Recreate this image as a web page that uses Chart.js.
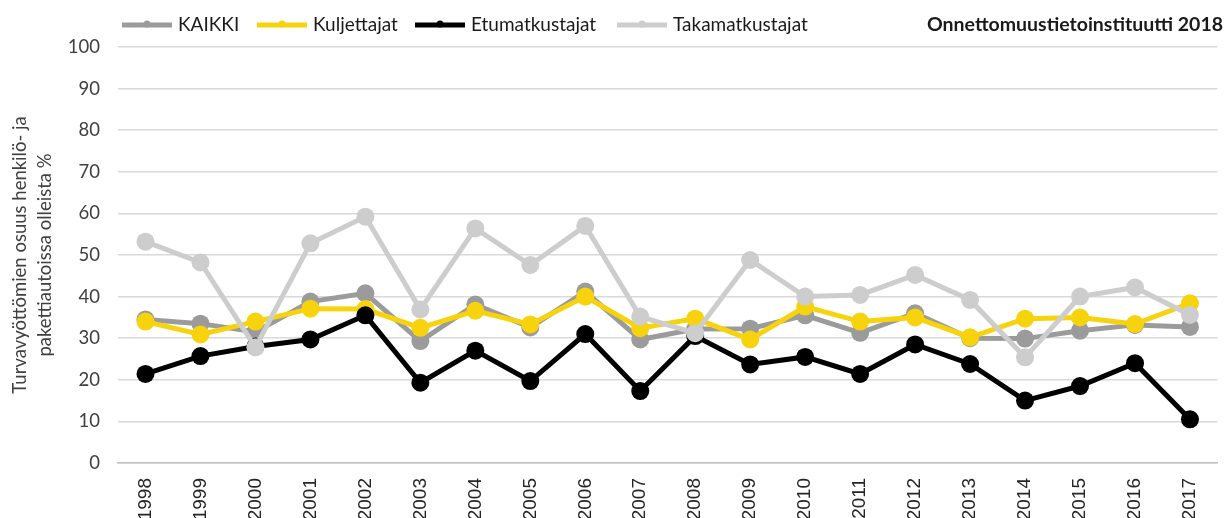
<!DOCTYPE html>
<html>
<head>
<meta charset="utf-8">
<script src="https://cdn.jsdelivr.net/npm/chart.js@4"></script>
<style>
  body { margin: 0; background: #fff; }
</style>
</head>
<body>
<canvas id="myChart" width="1228" height="518"></canvas>
<script>
// years on the x axis
const years = ['1998', '1999', '2000', '2001', '2002', '2003', '2004', '2005', '2006', '2007',
               '2008', '2009', '2010', '2011', '2012', '2013', '2014', '2015', '2016', '2017'];

// share of unbelted occupants, %
const kaikki = [34.5, 33.5, 31.5, 38.8, 40.8, 29.3, 38.1, 32.6, 41.2, 29.7,
                32.2, 32.3, 35.5, 31.3, 36.0, 30.0, 29.9, 31.8, 33.2, 32.7];
const kuljettajat = [34.0, 30.9, 34.0, 37.1, 37.0, 32.5, 36.6, 33.3, 40.0, 32.4,
                     34.7, 29.7, 37.6, 34.0, 35.0, 30.2, 34.7, 35.0, 33.4, 38.4];
const etumatkustajat = [21.4, 25.7, 28.0, 29.7, 35.5, 19.3, 27.0, 19.7, 31.0, 17.3,
                        30.5, 23.7, 25.5, 21.4, 28.5, 23.8, 15.0, 18.5, 24.0, 10.5];
const takamatkustajat = [53.2, 48.2, 27.8, 52.8, 59.2, 36.9, 56.4, 47.6, 57.0, 35.2,
                         31.2, 48.8, 40.0, 40.4, 45.2, 39.2, 25.4, 40.0, 42.2, 35.6];

const seriesNames = ['KAIKKI', 'Kuljettajat', 'Etumatkustajat', 'Takamatkustajat'];
const yTicks = { min: 0, max: 100, step: 10 };
const sourceText = 'Onnettomuustietoinstituutti 2018';

Chart.defaults.font.family = 'Lato, "Open Sans", sans-serif';
Chart.defaults.color = '#404040';

function lineSet(label, data, color, order) {
  return {
    label: label,
    data: data,
    borderColor: color,
    backgroundColor: color,
    borderWidth: 5,
    pointRadius: 9,
    pointHoverRadius: 9,
    pointBorderWidth: 0,
    pointBackgroundColor: color,
    fill: false,
    tension: 0,
    order: order
  };
}

// legend row + source text drawn on top, left aligned like the original
const legendX = [122, 257, 415, 617]; // where each legend sample starts
const topLegend = {
  id: 'topLegend',
  afterDraw(chart) {
    const ctx = chart.ctx;
    const y = 25;
    ctx.save();
    ctx.font = '19px Lato, "Open Sans", sans-serif';
    ctx.textBaseline = 'middle';
    chart.data.datasets.forEach((ds, i) => {
      const x = legendX[i];
      ctx.strokeStyle = ds.borderColor;
      ctx.lineWidth = 5;
      ctx.beginPath();
      ctx.moveTo(x, y);
      ctx.lineTo(x + 50, y);
      ctx.stroke();
      ctx.fillStyle = ds.borderColor;
      ctx.beginPath();
      ctx.arc(x + 25, y - 1, 3.5, 0, Math.PI * 2);
      ctx.fill();
      ctx.fillStyle = '#1a1a1a';
      ctx.textAlign = 'left';
      ctx.fillText(ds.label, x + 56, y);
    });
    ctx.font = 'bold 19.5px Lato, "Open Sans", sans-serif';
    ctx.textAlign = 'right';
    ctx.fillStyle = '#1a1a1a';
    ctx.fillText(sourceText, 1223, y);
    ctx.restore();
  }
};

const ctx = document.getElementById('myChart');
const myChart = new Chart(ctx, {
  type: 'line',
  data: {
    labels: years,
    datasets: [
      lineSet(seriesNames[0], kaikki, '#9b9b9b', 3),
      lineSet(seriesNames[1], kuljettajat, '#f6d30c', 2),
      lineSet(seriesNames[2], etumatkustajat, '#000000', 1),
      lineSet(seriesNames[3], takamatkustajat, '#cdcdcd', 0)
    ]
  },
  options: {
    responsive: false,
    animation: false,
    layout: { padding: { top: 47, left: 0, right: 0, bottom: 0 } },
    scales: {
      x: {
        offset: true,
        grid: { display: false, drawTicks: false },
        border: { display: true, color: '#bfbfbf', width: 1.5 },
        ticks: {
          minRotation: 90,
          maxRotation: 90,
          autoSkip: false,
          padding: 15,
          color: '#262626',
          font: { family: '"Liberation Sans", Arial, sans-serif', size: 19 }
        },
        afterFit(scale) { scale.height = 55; }
      },
      y: {
        min: yTicks.min,
        max: yTicks.max,
        grid: { color: '#d9d9d9', lineWidth: 1.5, drawTicks: false },
        border: { display: false },
        ticks: {
          stepSize: yTicks.step,
          padding: 18,
          color: '#404040',
          font: { size: 18.5 }
        },
        title: {
          display: true,
          text: ['Turvavyöttömien osuus henkilö- ja', 'pakettiautoissa olleista %'],
          color: '#404040',
          font: { size: 18.5, lineHeight: 1.35 },
          padding: { top: 8, bottom: 0 }
        },
        afterFit(scale) { scale.width = 118; }
      }
    },
    plugins: {
      legend: { display: false },
      title: { display: false },
      tooltip: { enabled: false }
    }
  },
  plugins: [topLegend]
});
</script>
</body>
</html>
